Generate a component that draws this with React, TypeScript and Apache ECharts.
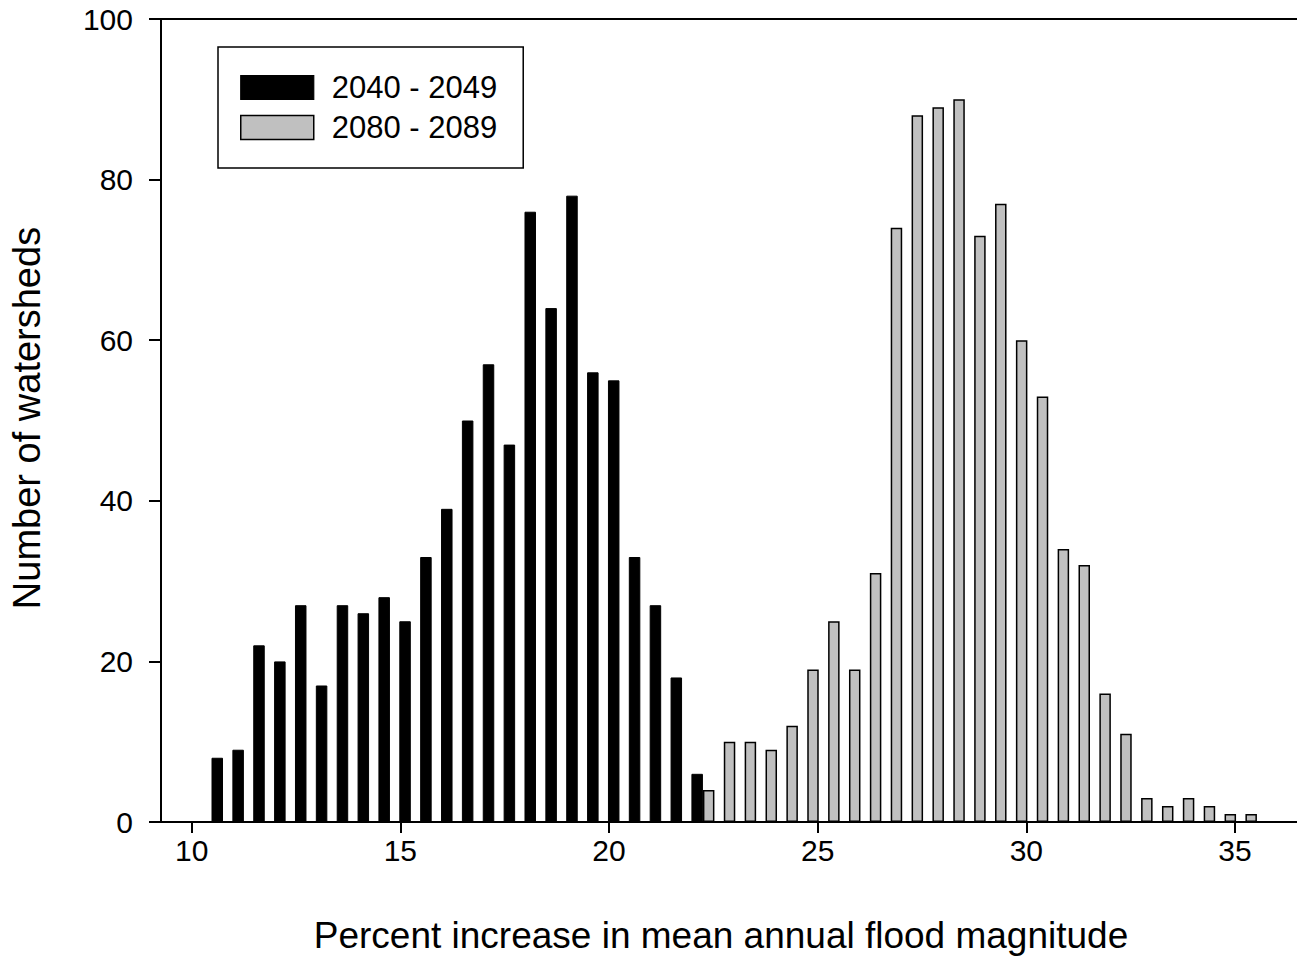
import React, { useEffect, useRef } from "react";
import * as echarts from "echarts";

const FONT = "'Liberation Sans', Arial, Helvetica, sans-serif";

const binsEarly = [
  10.75, 11.25, 11.75, 12.25, 12.75, 13.25, 13.75, 14.25, 14.75, 15.25, 15.75, 16.25,
  16.75, 17.25, 17.75, 18.25, 18.75, 19.25, 19.75, 20.25, 20.75, 21.25, 21.75, 22.25,
];
const countsEarly = [
  8, 9, 22, 20, 27, 17, 27, 26, 28, 25, 33, 39, 50, 57, 47, 76, 64, 78, 56, 55, 33, 27, 18, 6,
];

const binsLate = [
  22.25, 22.75, 23.25, 23.75, 24.25, 24.75, 25.25, 25.75, 26.25, 26.75, 27.25, 27.75, 28.25,
  28.75, 29.25, 29.75, 30.25, 30.75, 31.25, 31.75, 32.25, 32.75, 33.25, 33.75, 34.25, 34.75, 35.25,
];
const countsLate = [
  4, 10, 10, 9, 12, 19, 25, 19, 31, 74, 88, 89, 90, 73, 77, 60, 53, 34, 32, 16, 11, 3, 2, 3, 2, 1, 1,
];

const xTicks = [10, 15, 20, 25, 30, 35];
const seriesNames = ["2040 - 2049", "2080 - 2089"];
const xTitle = "Percent increase in mean annual flood magnitude";
const yTitle = "Number of watersheds";

export default function App() {
  const ref = useRef<HTMLDivElement>(null);

  useEffect(() => {
    if (!ref.current) return;
    const chart = echarts.init(ref.current, null, { renderer: "svg" });
    const early = binsEarly.map((x, i) => [x, countsEarly[i]]);
    const late = binsLate.map((x, i) => [x, countsLate[i]]);

    chart.setOption({
      animation: false,
      backgroundColor: "#ffffff",
      textStyle: { fontFamily: FONT, color: "#000" },
      grid: { left: 161, right: 0, top: 19, bottom: 135, containLabel: false },
      legend: {
        orient: "vertical",
        left: 218,
        top: 47,
        padding: [25, 26, 25, 22],
        itemGap: 9,
        itemWidth: 73,
        itemHeight: 24,
        borderColor: "#000",
        borderWidth: 1.5,
        icon: "rect",
        textStyle: {
          fontFamily: FONT,
          fontSize: 31,
          color: "#000",
          padding: [0, 0, 0, 13],
        },
        data: [
          { name: seriesNames[0], itemStyle: { color: "#000", borderColor: "#000", borderWidth: 1.2 } },
          { name: seriesNames[1], itemStyle: { color: "#c0c0c0", borderColor: "#000", borderWidth: 1.5 } },
        ],
      },
      xAxis: [
        {
          type: "value",
          min: 9.264,
          max: 36.486,
          splitLine: { show: false },
          axisLine: { show: true, onZero: false, lineStyle: { color: "#000", width: 2 } },
          axisTick: {
            show: true,
            inside: false,
            length: 11,
            customValues: xTicks,
            lineStyle: { color: "#000", width: 2 },
          },
          axisLabel: {
            show: true,
            customValues: xTicks,
            fontFamily: FONT,
            fontSize: 30,
            color: "#000",
            margin: 13,
          },
        },
        {
          type: "value",
          position: "top",
          min: 9.264,
          max: 36.486,
          splitLine: { show: false },
          axisLine: { show: true, onZero: false, lineStyle: { color: "#000", width: 2 } },
          axisTick: { show: false },
          axisLabel: { show: false },
        },
      ],
      yAxis: {
        type: "value",
        min: 0,
        max: 100,
        interval: 20,
        splitLine: { show: false },
        axisLine: { show: true, onZero: false, lineStyle: { color: "#000", width: 2 } },
        axisTick: { show: true, inside: false, length: 12, lineStyle: { color: "#000", width: 2 } },
        axisLabel: { fontFamily: FONT, fontSize: 30, color: "#000", margin: 28 },
      },
      series: [
        {
          name: seriesNames[0],
          type: "bar",
          xAxisIndex: 0,
          data: early,
          barWidth: 11.5,
          barGap: "0%",
          itemStyle: { color: "#000", borderColor: "#000", borderWidth: 1 },
        },
        {
          name: seriesNames[1],
          type: "bar",
          xAxisIndex: 0,
          data: late,
          barWidth: 11.5,
          barGap: "0%",
          itemStyle: { color: "#c0c0c0", borderColor: "#000", borderWidth: 1.5 },
        },
      ],
      graphic: [
        {
          type: "text",
          x: 721,
          y: 935,
          style: {
            text: xTitle,
            x: 0,
            y: 0,
            fontFamily: FONT,
            fontSize: 37,
            fill: "#000",
            align: "center",
            verticalAlign: "middle",
          },
        },
        {
          type: "text",
          x: 27,
          y: 418,
          rotation: Math.PI / 2,
          style: {
            text: yTitle,
            x: 0,
            y: 0,
            fontFamily: FONT,
            fontSize: 38,
            fill: "#000",
            align: "center",
            verticalAlign: "middle",
          },
        },
      ],
    });

    return () => chart.dispose();
  }, []);

  return (
    <div
      ref={ref}
      style={{ position: "absolute", left: 0, top: 0, width: 1297, height: 957 }}
    />
  );
}
